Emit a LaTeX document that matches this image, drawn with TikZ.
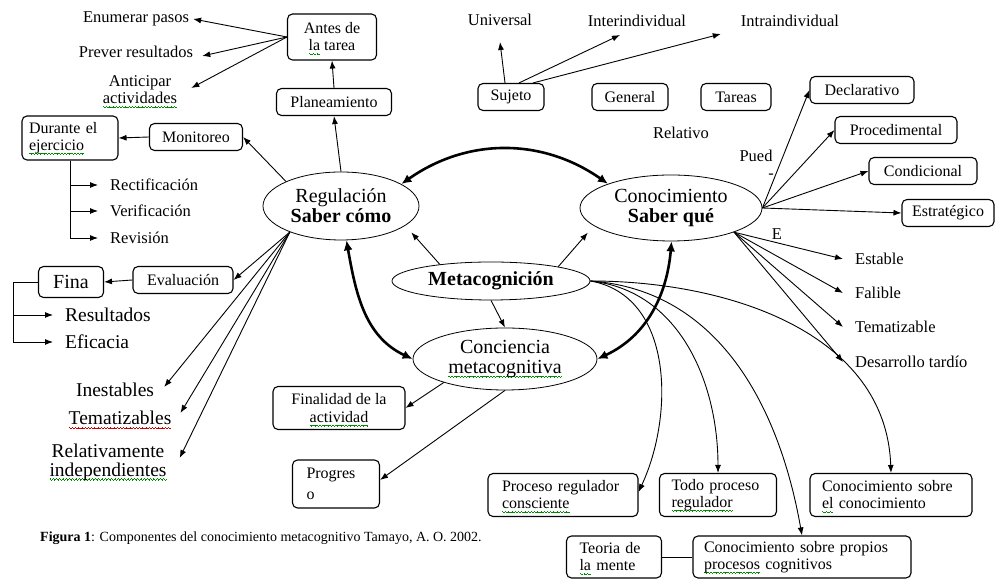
\documentclass[tikz,border=0pt]{standalone}
\usepackage{fontspec}
\setmainfont{Liberation Serif}
\usetikzlibrary{arrows.meta,shapes.geometric,calc}

% spell-check marks under some words
\newsavebox\wordbox
\newcommand\wavebit{\hbox{\rule[0.6pt]{0.8pt}{0.7pt}\rule{0.8pt}{0.7pt}\rule[-0.6pt]{0.8pt}{0.7pt}\rule{0.8pt}{0.7pt}}}
\newcommand\markword[2]{\leavevmode\sbox\wordbox{#2}\rlap{\raisebox{-3.6pt}[0pt][0pt]{\textcolor{#1}{\hbox to \wd\wordbox{\xleaders\wavebit\hfill}}}}\usebox\wordbox}
\newcommand\wavyg[1]{\markword{green!55!black}{#1}}
\newcommand\wavyr[1]{\markword{red!80!black}{#1}}

\begin{document}
\begin{tikzpicture}[
    x=1pt, y=1pt,
    >={Latex[length=8pt,width=6pt]},
    box/.style={draw, rounded corners=5pt, line width=1.1pt, inner sep=0pt,
      minimum height=27pt, font=\fontsize{16}{17}\selectfont},
    oval/.style={draw, ellipse, line width=0.8pt, inner sep=0pt, align=center,
      font=\fontsize{20}{20}\selectfont},
    lab/.style={inner sep=0pt, align=center, font=\fontsize{16.5}{17}\selectfont},
    biglab/.style={inner sep=0pt, align=center, font=\fontsize{19.5}{19}\selectfont},
    link/.style={->, line width=0.9pt},
    bold link/.style={{Latex[length=10pt,width=9pt]}-{Latex[length=10pt,width=9pt]},
      line width=2.6pt}
  ]
  \useasboundingbox (0,0) rectangle (996,580);

  % central ovals
  \node[oval, minimum width=198pt, minimum height=38pt] (meta) at (491,299) {\textbf{Metacognición}};
  \node[oval, minimum width=156pt, minimum height=68pt] (reg) at (341,374) {Regulación\\\textbf{Saber cómo}};
  \node[oval, minimum width=182pt, minimum height=66pt] (con) at (671,372) {Conocimiento\\\textbf{Saber qué}};
  \node[oval, minimum width=184pt, minimum height=62pt] (conc) at (505,221) {Conciencia\\\wavyg{metacognitiva}};

  % regulation side
  \node[box, minimum width=89pt, minimum height=46pt, align=center] (antes) at (332,543) {Antes de\\\wavyg{la} tarea};
  \node[box, minimum width=115pt] (plan) at (334,478) {Planeamiento};
  \node[box, minimum width=93pt] (monit) at (196,443) {Monitoreo};
  \node[box, minimum width=96pt, minimum height=44pt, text width=82pt, align=left] (durante) at (70,442) {Durante el\\\wavyg{ejercicio}};
  \node[box, minimum width=100pt] (evalua) at (183,300) {Evaluación};
  \node[box, minimum width=65pt, minimum height=31pt, font=\fontsize{20}{20}\selectfont] (fina) at (71,298) {Fina};

  \node[lab] (enum) at (136,561) {Enumerar pasos};
  \node[lab] (prever) at (136,528) {Prever resultados};
  \node[lab] (antic) at (140,490) {Anticipar\\\wavyg{actividades}};
  \node[lab, anchor=west] (rectif) at (110,395) {Rectificación};
  \node[lab, anchor=west] (verif) at (110,369) {Verificación};
  \node[lab, anchor=west] (revis) at (110,342) {Revisión};
  \node[biglab, anchor=west] (result) at (65,265) {Resultados};
  \node[biglab, anchor=west] (efic) at (65,238) {Eficacia};
  \node[biglab] (inest) at (115,190) {Inestables};
  \node[biglab] (temat) at (120,162) {\wavyr{Tematizables}};
  \node[biglab] (relat) at (108,118) {Relativamente\\\wavyg{independientes}};

  \draw[link] (reg.north) -- (plan.south);
  \draw[link] (plan.north) -- (antes.south);
  \draw[link] (antes.west) -- ([xshift=4pt]enum.east);
  \draw[link] (antes.west) -- ([xshift=9pt,yshift=-4pt]prever.east);
  \draw[link] (antes.west) -- ([xshift=14pt,yshift=2pt]antic.east);
  \draw[link] (reg.156) -- (monit.east);
  \draw[link] (monit.west) -- (durante.east);
  \foreach \n in {rectif,verif,revis}
    \draw[link] (durante.south) |- ([xshift=-12pt]\n.west);

  \coordinate (fan) at (reg.207);
  \draw[link] (fan) -- (evalua.east);
  \draw[link] (evalua.west) -- (fina.east);
  \foreach \n in {result,efic}
    \draw[link] (fina.west) -- ++(-25,0) |- ([xshift=-12pt]\n.west);
  \draw[link] (fan) -- ([xshift=10pt,yshift=3pt]inest.east);
  \draw[link] (fan) -- ([xshift=9pt,yshift=5pt]temat.east);
  \draw[link] (fan) -- ([xshift=13pt,yshift=4pt]relat.east);

  % knowledge side
  \node[box, minimum width=66pt] (sujeto) at (511,483) {Sujeto};
  \node[box, minimum width=76pt] (general) at (630,483) {General};
  \node[box, minimum width=70pt] (tareas) at (736,483) {Tareas};
  \node[lab] (univ) at (500,560) {Universal};
  \node[lab] (interind) at (637,559) {Interindividual};
  \node[lab] (intraind) at (790,559) {Intraindividual};
  \node[lab] (relativo) at (681,447) {Relativo};
  \node[lab] (pued) at (756,424) {Pued};
  \node[lab] (guion) at (771,404) {-};
  \node[lab] (letrae) at (777,346) {E};

  \draw[link] ([xshift=-6pt]sujeto.north) -- ([yshift=-16pt]univ.south);
  \draw[link] ([xshift=8pt]sujeto.north) -- ([xshift=-17pt,yshift=-8pt]interind.south);
  \draw[link] ([xshift=22pt]sujeto.north) -- ([xshift=-20pt,yshift=-7pt]intraind.south west);

  \node[box, minimum width=104pt] (decl) at (862,490) {Declarativo};
  \node[box, minimum width=122pt] (proc) at (896,450) {Procedimental};
  \node[box, minimum width=108pt] (cond) at (923,409) {Condicional};
  \node[box, minimum width=92pt] (estr) at (948,367) {Estratégico};
  \foreach \n in {decl,proc,cond,estr}
    \draw[link] (con.east) -- (\n.west);

  \node[lab, anchor=west] (estable) at (855,321) {Estable};
  \node[lab, anchor=west] (falible) at (855,287) {Falible};
  \node[lab, anchor=west] (tematiz) at (855,253) {Tematizable};
  \node[lab, anchor=west] (desarr) at (855,218) {Desarrollo tardío};
  \coordinate (fan2) at (con.-21);
  \foreach \n in {estable,falible,tematiz,desarr}
    \draw[link] (fan2) -- ([xshift=-12pt]\n.west);

  % links between the ovals
  \draw[link, shorten >=9pt] (meta.162) -- (reg.-17);
  \draw[link, shorten >=9pt] (meta.12) -- (con.193);
  \draw[link] (meta.south) -- (conc.north);
  \draw[bold link] (reg.20) to[bend left=35] (con.159);
  \draw[bold link] (reg.-81) to[out=-80,in=155] (conc.west);
  \draw[bold link] (con.-89) to[out=-95,in=25] (conc.east);

  % awareness
  \node[box, minimum width=132pt, minimum height=43pt, align=center, font=\fontsize{16}{18}\selectfont] (finalidad) at (339,172) {Finalidad de la\\\wavyg{actividad}};
  \node[box, minimum width=87pt, minimum height=48pt, text width=59pt, align=left, font=\fontsize{16}{21}\selectfont] (progreso) at (336,96) {Progres\\o};
  \draw[link] (conc.-159) -- (finalidad.east);
  \draw[link] (conc.south) -- ([yshift=4pt]progreso.east);

  % bottom boxes
  \node[box, minimum width=150pt, minimum height=43pt, text width=122pt, align=left] (proceso) at (563,85) {Proceso regulador\\\wavyg{consciente}};
  \node[box, minimum width=117pt, minimum height=43pt, text width=93pt, align=left] (todo) at (718,85) {Todo proceso\\\wavyg{regulador}};
  \node[box, minimum width=162pt, minimum height=43pt, text width=138pt, align=left] (conosobre) at (891,85) {Conocimiento sobre\\\wavyg{el} conocimiento};
  \node[box, minimum width=95pt, minimum height=42pt, text width=69pt, align=left] (teoria) at (614,23) {Teoria de\\\wavyg{la} mente};
  \node[box, minimum width=218pt, minimum height=42pt, text width=196pt, align=left] (propios) at (802,23) {Conocimiento sobre propios\\\wavyg{procesos} cognitivos};
  \draw[line width=0.9pt] (teoria.east) -- (propios.west);

  \draw[link] (meta.east) to[out=-10,in=65] ([yshift=3pt]proceso.east);
  \draw[link] (meta.east) to[out=-6,in=90] (todo.north);
  \draw[link] (meta.east) to[out=-4,in=100] (propios.north);
  \draw[link] (meta.east) to[out=0,in=92] (conosobre.north);

  \node[anchor=west, inner sep=0pt, font=\fontsize{14}{14}\selectfont] (caption) at (40,42)
    {\textbf{Figura 1}: Componentes del conocimiento metacognitivo Tamayo, A. O. 2002.};
\end{tikzpicture}
\end{document}
